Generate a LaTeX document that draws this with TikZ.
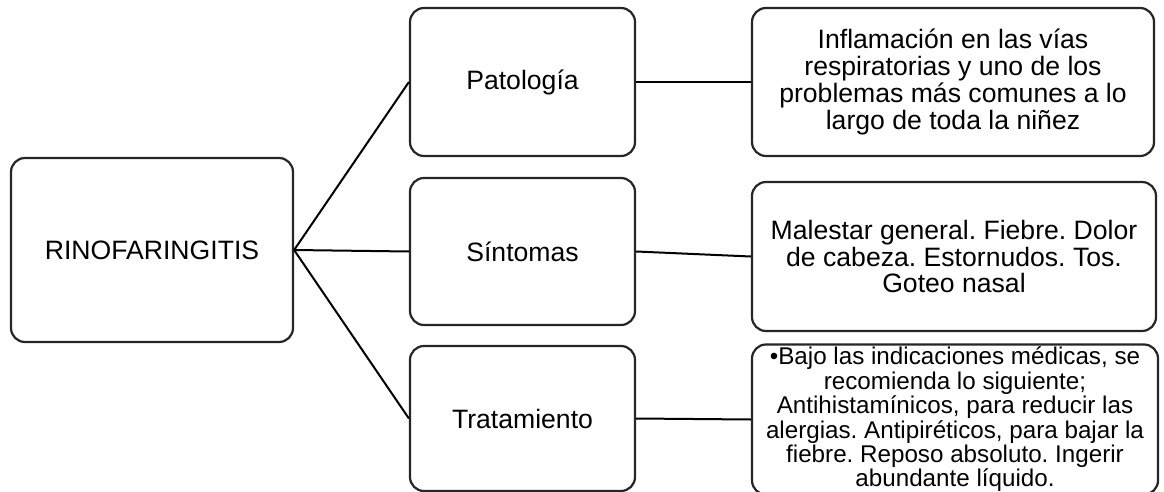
\documentclass[tikz,border=0pt]{standalone}
\usepackage{fontspec}
\setmainfont{Liberation Sans}
\frenchspacing
\tikzset{
  box/.style={draw=black!85, line width=2.2pt, rounded corners=14pt, fill=white,
    align=center, inner sep=0pt, font=\fontsize{26.6}{26.7}\selectfont},
  conn/.style={line width=2pt, black}
}
\begin{document}
\begin{tikzpicture}[x=1pt,y=-1pt]
\useasboundingbox (0,0) rectangle (1164,492);
\clip (0,0) rectangle (1164,492);
\node[box, minimum width=282pt, minimum height=184pt] (root) at (152,250) {RINOFARINGITIS};
\node[box, minimum width=225pt, minimum height=148pt] (pat) at (522.5,82) {Patología};
\node[box, minimum width=225pt, minimum height=147pt] (sin) at (522.5,251.5) {Síntomas};
\node[box, minimum width=225pt, minimum height=145pt] (tra) at (522.5,418.5) {Tratamiento};
\node[box, minimum width=402pt, minimum height=148pt] (patr) at (953,82)
  {Inflamación en las vías\\respiratorias y uno de los\\problemas más comunes a lo\\largo de toda la niñez};
\node[box, minimum width=404pt, minimum height=149pt] (sinr) at (954,256.5)
  {Malestar general. Fiebre. Dolor\\de cabeza. Estornudos. Tos.\\Goteo nasal};
\node[box, minimum width=406pt, minimum height=150pt, font=\fontsize{24.2}{24.4}\selectfont] (trar) at (955,419.5)
  {•Bajo las indicaciones médicas, se\\recomienda lo siguiente;\\Antihistamínicos, para reducir las\\alergias. Antipiréticos, para bajar la\\fiebre. Reposo absoluto. Ingerir\\abundante líquido.};
\draw[conn] (root.east) -- (pat.west);
\draw[conn] (root.east) -- (sin.west);
\draw[conn] (root.east) -- (tra.west);
\draw[conn] (pat.east) -- (patr.west);
\draw[conn] (sin.east) -- (sinr.west);
\draw[conn] (tra.east) -- (trar.west);
\end{tikzpicture}
\end{document}
